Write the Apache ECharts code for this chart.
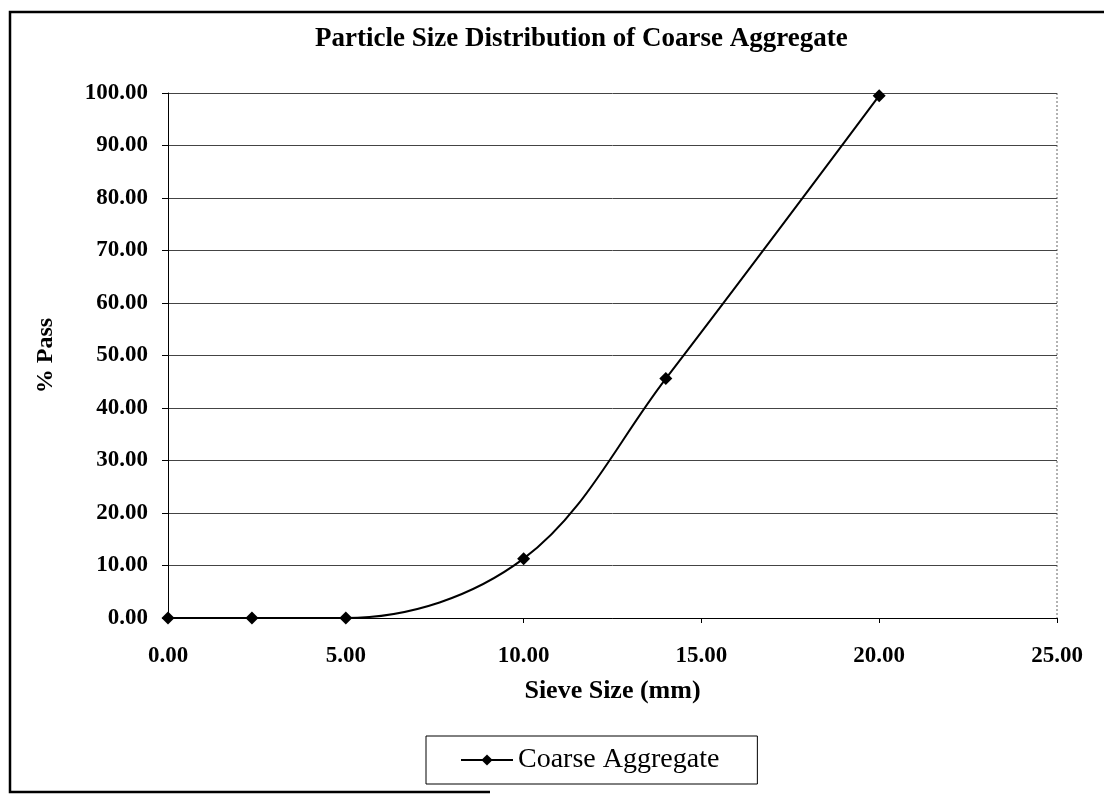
<!DOCTYPE html>
<html>
<head>
<meta charset="utf-8">
<script src="https://cdn.jsdelivr.net/npm/echarts@6/dist/echarts.min.js"></script>
<style>
  html, body { margin: 0; padding: 0; background: #fff; }
  #chart { width: 1104px; height: 794px; }
</style>
</head>
<body>
<div id="chart"></div>
<script>
// sieve sizes (mm) and % passing
var sieveSizes = [0, 2.36, 5, 10, 14, 20]
var percentPass = [0, 0, 0, 11.3, 45.6, 99.5]
var seriesName = 'Coarse Aggregate'

var serif = 'Liberation Serif'
var points = sieveSizes.map(function (s, i) { return [s, percentPass[i]] })

var chart = echarts.init(document.getElementById('chart'))
chart.setOption({
  backgroundColor: '#fff',
  animation: false,
  title: {
    text: 'Particle Size Distribution of Coarse Aggregate',
    left: 310,
    top: 21,
    textStyle: { fontFamily: serif, fontWeight: 'bold', fontSize: 27, color: '#000' }
  },
  grid: { left: 168, right: 47, top: 93, bottom: 176 },
  legend: {
    data: [seriesName],
    left: 426,
    top: 736,
    padding: [10, 38, 10, 34],
    borderColor: '#000',
    borderWidth: 1,
    itemWidth: 52,
    itemHeight: 14,
    itemGap: 4,
    textStyle: { fontFamily: serif, fontSize: 28, color: '#000' }
  },
  xAxis: {
    type: 'value',
    min: 0,
    max: 25,
    interval: 5,
    name: 'Sieve Size (mm)',
    nameLocation: 'middle',
    nameGap: 60,
    nameTextStyle: { fontFamily: serif, fontWeight: 'bold', fontSize: 26, color: '#000' },
    axisLine: { lineStyle: { color: '#000', width: 1 } },
    axisTick: { show: true, inside: false, length: 5, lineStyle: { color: '#000' } },
    axisLabel: {
      margin: 27,
      fontFamily: serif, fontWeight: 'bold', fontSize: 23, color: '#000',
      formatter: function (v) { return v.toFixed(2) }
    },
    splitLine: { show: false }
  },
  yAxis: {
    type: 'value',
    min: 0,
    max: 100,
    interval: 10,
    name: '% Pass',
    nameLocation: 'middle',
    nameGap: 110,
    nameTextStyle: { fontFamily: serif, fontWeight: 'bold', fontSize: 24, color: '#000' },
    axisLine: { show: true, lineStyle: { color: '#000', width: 1 } },
    axisTick: { show: true, inside: false, length: 6, lineStyle: { color: '#000' } },
    axisLabel: {
      margin: 20,
      fontFamily: serif, fontWeight: 'bold', fontSize: 23, color: '#000',
      formatter: function (v) { return v.toFixed(2) }
    },
    splitLine: { show: true, lineStyle: { color: '#444', width: 1 } }
  },
  graphic: [
    // outer chart frame (right side runs off the picture, bottom only partly visible)
    { type: 'polyline', shape: { points: [[1104, 12], [10, 12], [10, 792], [490, 792]] },
      style: { fill: 'none', stroke: '#000', lineWidth: 2.5 }, silent: true },
    // dashed right edge of plot area
    { type: 'line', shape: { x1: 1057, y1: 93, x2: 1057, y2: 618 },
      style: { stroke: '#666', lineWidth: 1, lineDash: [2, 2] }, silent: true }
  ],
  series: [
    {
      name: seriesName,
      type: 'line',
      data: points,
      smooth: 0.35,
      symbol: 'diamond',
      symbolSize: 13,
      itemStyle: { color: '#000' },
      lineStyle: { color: '#000', width: 2 }
    }
  ]
})
</script>
</body>
</html>
